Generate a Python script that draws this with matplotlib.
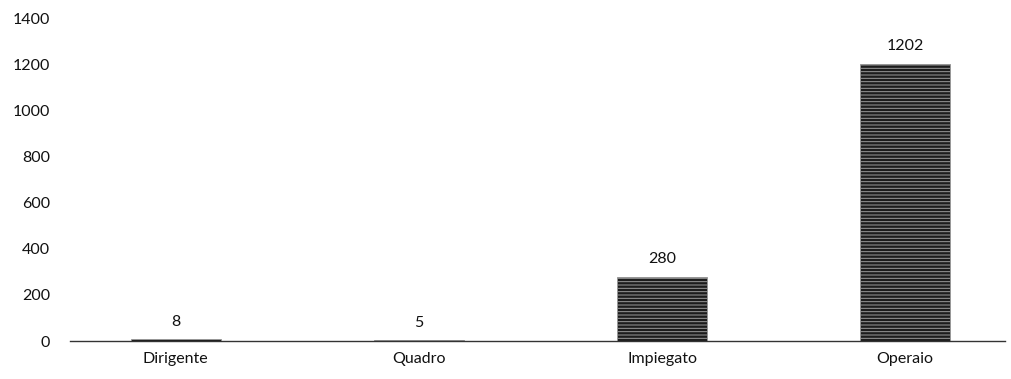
import matplotlib
matplotlib.use("Agg")
import matplotlib.pyplot as plt

categories = ["Dirigente", "Quadro", "Impiegato", "Operaio"]
values = [8, 5, 280, 1202]
yticks = [0, 200, 400, 600, 800, 1000, 1200, 1400]

plt.rcParams['font.family'] = ['Lato', 'DejaVu Sans']
plt.rcParams['hatch.linewidth'] = 0.7

fig = plt.figure(figsize=(10.11, 3.79), dpi=100)
ax = fig.add_axes([0.069, 0.100, 0.925, 0.852])

x = range(len(categories))
bars = ax.bar(x, values, width=0.37, color='#1c1c1c', edgecolor='#9a9a9a',
              hatch='-----', linewidth=0.6)
for xi, v in zip(x, values):
    ax.text(xi, v + 45, str(v), ha='center', va='bottom', fontsize=11.5, color='#111111')

ax.set_xlim(-0.436, 3.41)
ax.set_ylim(0, 1400)
ax.set_yticks(yticks)
ax.set_xticks(list(x))
ax.set_xticklabels(categories)
ax.tick_params(axis='both', length=0, labelsize=11.5, colors='#111111')
ax.tick_params(axis='y', pad=14)
ax.tick_params(axis='x', pad=8)
for s in ['top', 'right', 'left']:
    ax.spines[s].set_visible(False)
ax.spines['bottom'].set_color('#333333')
ax.spines['bottom'].set_linewidth(1.0)

fig.savefig("out.png", dpi=100)
